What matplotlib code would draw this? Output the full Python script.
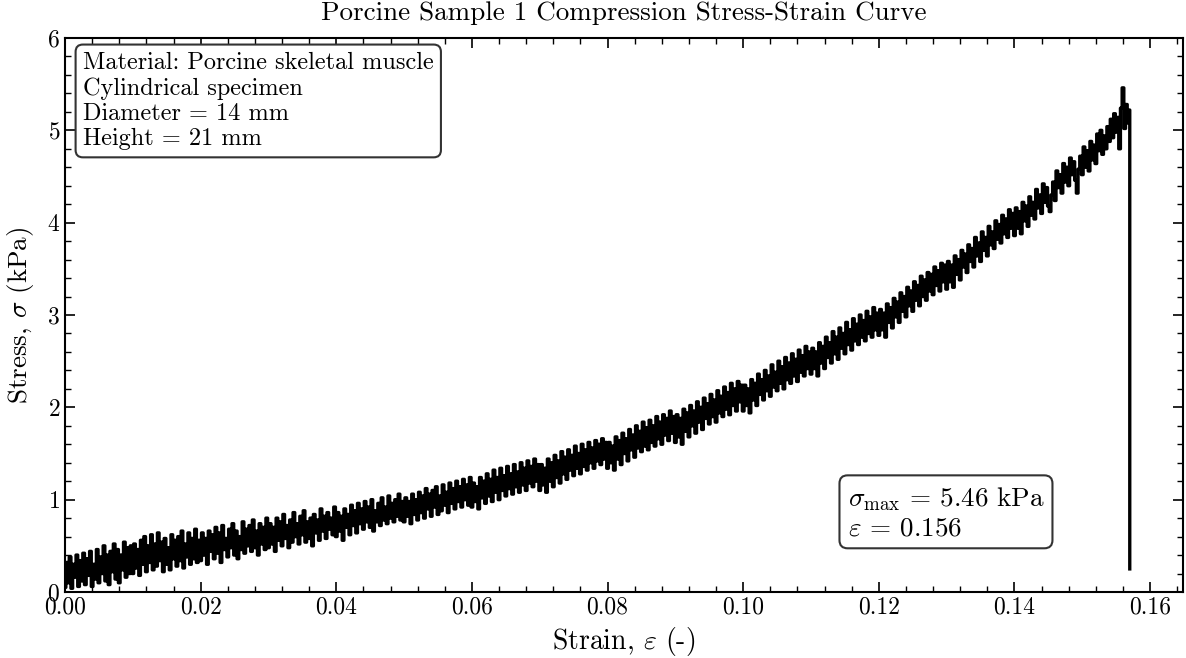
import numpy as np
import matplotlib
matplotlib.use("Agg")
import matplotlib.pyplot as plt
from matplotlib.ticker import MultipleLocator

# stress readings (kPa), one every 0.00025 strain, read block by block (0.01 strain each)
stress_blocks = [
    [0.05, 0.32, 0.10, 0.38, 0.04, 0.30, 0.16, 0.40, 0.06, 0.34, 0.12, 0.42, 0.08, 0.36, 0.18, 0.44, 0.06, 0.30, 0.14, 0.46,
     0.10, 0.38, 0.20, 0.50, 0.12, 0.40, 0.08, 0.44, 0.22, 0.52, 0.14, 0.46, 0.10, 0.40, 0.24, 0.54, 0.16, 0.48, 0.20, 0.50],
    [0.20, 0.52, 0.26, 0.46, 0.18, 0.56, 0.30, 0.60, 0.22, 0.50, 0.32, 0.62, 0.24, 0.52, 0.28, 0.64, 0.34, 0.54, 0.22, 0.58,
     0.30, 0.48, 0.24, 0.62, 0.36, 0.56, 0.28, 0.60, 0.34, 0.66, 0.26, 0.52, 0.38, 0.64, 0.30, 0.58, 0.36, 0.68, 0.32, 0.56],
    [0.34, 0.64, 0.40, 0.58, 0.30, 0.66, 0.44, 0.62, 0.36, 0.70, 0.42, 0.64, 0.32, 0.72, 0.46, 0.58, 0.38, 0.68, 0.48, 0.74,
     0.40, 0.66, 0.36, 0.60, 0.46, 0.76, 0.42, 0.68, 0.50, 0.72, 0.44, 0.78, 0.48, 0.66, 0.40, 0.74, 0.52, 0.70, 0.46, 0.80],
    [0.48, 0.74, 0.52, 0.70, 0.44, 0.80, 0.56, 0.76, 0.50, 0.84, 0.58, 0.72, 0.48, 0.78, 0.54, 0.86, 0.60, 0.74, 0.52, 0.82,
     0.62, 0.88, 0.54, 0.76, 0.58, 0.80, 0.50, 0.84, 0.64, 0.78, 0.56, 0.90, 0.66, 0.82, 0.58, 0.86, 0.68, 0.80, 0.62, 0.92],
    [0.60, 0.86, 0.66, 0.82, 0.56, 0.90, 0.70, 0.84, 0.62, 0.94, 0.72, 0.88, 0.64, 0.96, 0.74, 0.90, 0.68, 0.98, 0.76, 0.92,
     0.70, 1.00, 0.66, 0.88, 0.76, 0.96, 0.72, 1.02, 0.78, 0.92, 0.74, 1.04, 0.80, 0.96, 0.76, 1.00, 0.82, 1.06, 0.78, 0.98],
    [0.76, 1.02, 0.82, 0.98, 0.74, 1.06, 0.84, 1.00, 0.78, 1.08, 0.86, 1.04, 0.80, 1.12, 0.90, 1.06, 0.82, 1.10, 0.92, 1.14,
     0.84, 1.04, 0.88, 1.16, 0.94, 1.08, 0.86, 1.18, 0.96, 1.12, 0.90, 1.20, 0.98, 1.14, 0.92, 1.22, 1.00, 1.16, 0.94, 1.24],
    [0.92, 1.18, 0.98, 1.14, 0.90, 1.24, 1.02, 1.20, 0.96, 1.28, 1.04, 1.22, 0.98, 1.32, 1.08, 1.24, 1.00, 1.34, 1.10, 1.26,
     1.04, 1.36, 1.12, 1.28, 1.06, 1.38, 1.14, 1.30, 1.08, 1.40, 1.16, 1.34, 1.10, 1.42, 1.18, 1.36, 1.14, 1.44, 1.20, 1.38],
    [1.10, 1.38, 1.16, 1.34, 1.08, 1.44, 1.20, 1.40, 1.14, 1.48, 1.24, 1.42, 1.18, 1.52, 1.28, 1.46, 1.22, 1.54, 1.32, 1.48,
     1.26, 1.58, 1.34, 1.50, 1.28, 1.60, 1.36, 1.54, 1.32, 1.62, 1.40, 1.56, 1.34, 1.64, 1.42, 1.60, 1.38, 1.66, 1.44, 1.62],
    [1.34, 1.62, 1.40, 1.58, 1.32, 1.68, 1.44, 1.64, 1.38, 1.72, 1.50, 1.66, 1.42, 1.76, 1.54, 1.70, 1.46, 1.80, 1.56, 1.74,
     1.52, 1.84, 1.58, 1.78, 1.54, 1.86, 1.62, 1.80, 1.58, 1.90, 1.66, 1.84, 1.60, 1.92, 1.70, 1.88, 1.64, 1.96, 1.72, 1.90],
    [1.62, 1.92, 1.68, 1.88, 1.60, 1.98, 1.74, 1.94, 1.68, 2.02, 1.80, 1.96, 1.72, 2.06, 1.84, 2.00, 1.76, 2.10, 1.88, 2.04,
     1.82, 2.14, 1.90, 2.08, 1.84, 2.18, 1.94, 2.12, 1.90, 2.22, 1.98, 2.16, 1.92, 2.26, 2.02, 2.20, 1.96, 2.28, 2.06, 2.24],
    [1.96, 2.24, 2.02, 2.20, 1.94, 2.30, 2.08, 2.26, 2.02, 2.36, 2.14, 2.30, 2.08, 2.40, 2.18, 2.34, 2.12, 2.46, 2.22, 2.38,
     2.18, 2.50, 2.26, 2.44, 2.20, 2.54, 2.30, 2.48, 2.26, 2.58, 2.34, 2.52, 2.28, 2.62, 2.38, 2.56, 2.34, 2.66, 2.42, 2.60],
    [2.36, 2.64, 2.42, 2.60, 2.34, 2.70, 2.48, 2.66, 2.42, 2.76, 2.54, 2.70, 2.48, 2.82, 2.58, 2.76, 2.52, 2.86, 2.64, 2.80,
     2.58, 2.92, 2.68, 2.84, 2.62, 2.96, 2.72, 2.90, 2.68, 3.00, 2.76, 2.94, 2.72, 3.04, 2.80, 2.98, 2.76, 3.08, 2.84, 3.02],
    [2.78, 3.06, 2.84, 3.02, 2.76, 3.12, 2.92, 3.08, 2.86, 3.18, 2.98, 3.14, 2.92, 3.24, 3.04, 3.20, 2.98, 3.30, 3.10, 3.26,
     3.04, 3.36, 3.16, 3.32, 3.10, 3.42, 3.20, 3.38, 3.16, 3.46, 3.26, 3.44, 3.22, 3.52, 3.32, 3.48, 3.26, 3.56, 3.36, 3.54],
    [3.28, 3.58, 3.36, 3.54, 3.30, 3.64, 3.44, 3.60, 3.38, 3.70, 3.52, 3.66, 3.46, 3.76, 3.58, 3.72, 3.52, 3.84, 3.64, 3.78,
     3.58, 3.90, 3.70, 3.84, 3.64, 3.96, 3.76, 3.90, 3.72, 4.02, 3.82, 3.98, 3.78, 4.08, 3.88, 4.04, 3.84, 4.14, 3.94, 4.10],
    [3.86, 4.16, 3.94, 4.12, 3.88, 4.22, 4.02, 4.18, 3.96, 4.28, 4.08, 4.22, 4.04, 4.36, 4.16, 4.30, 4.10, 4.42, 4.22, 4.38,
     4.18, 4.12, 4.30, 4.44, 4.24, 4.56, 4.38, 4.52, 4.32, 4.64, 4.44, 4.60, 4.40, 4.70, 4.52, 4.66, 4.46, 4.32, 4.58, 4.72],
    [4.52, 4.82, 4.60, 4.78, 4.56, 4.88, 4.68, 4.84, 4.64, 4.96, 4.78, 5.00, 4.74, 4.94, 4.80, 5.04, 4.88, 5.12, 4.92, 5.18,
     4.98, 5.14, 4.80, 5.24, 5.46, 5.02, 5.28, 5.08, 5.22],
]
strain_step = 0.00025
# sample unloads at the end of the test
end_strain = 0.157
end_stress = 0.25

sigma_max = 5.46
eps_at_max = 0.156

info_lines = [
    "Material: Porcine skeletal muscle",
    "Cylindrical specimen",
    "Diameter = 14 mm",
    "Height = 21 mm",
]

stress = np.concatenate([np.array(b) for b in stress_blocks])
strain = np.arange(len(stress)) * strain_step
strain = np.append(strain, end_strain)
stress = np.append(stress, end_stress)

plt.rcParams.update({
    "font.family": "serif",
    "font.serif": ["cmr10"],
    "mathtext.fontset": "cm",
    "axes.formatter.use_mathtext": True,
    "axes.unicode_minus": False,
})

fig = plt.figure(figsize=(11.86, 6.58), dpi=100)
ax = fig.add_axes([65 / 1186, 1 - 592 / 658, 1118 / 1186, 554 / 658])

ax.plot(strain, stress, color="black", lw=2.4, drawstyle="steps-mid")

ax.set_xlim(0, end_strain * 1.05)
ax.set_ylim(0, 6)
ax.xaxis.set_major_locator(MultipleLocator(0.02))
ax.xaxis.set_minor_locator(MultipleLocator(0.004))
ax.yaxis.set_major_locator(MultipleLocator(1))
ax.yaxis.set_minor_locator(MultipleLocator(0.2))
ax.xaxis.set_major_formatter(plt.FormatStrFormatter("%.2f"))
ax.tick_params(which="both", direction="in", top=True, right=True, labelsize=17)
ax.tick_params(which="major", length=7, width=1.2)
ax.tick_params(which="minor", length=4, width=1.0)
for s in ax.spines.values():
    s.set_linewidth(1.5)

ax.set_xlabel(r"Strain, $\varepsilon$ (-)", fontsize=20, labelpad=4)
ax.set_ylabel(r"Stress, $\sigma$ (kPa)", fontsize=19.5, labelpad=8)
ax.set_title("Porcine Sample 1 Compression Stress-Strain Curve", fontsize=19.5, pad=13)

box = dict(boxstyle="round,pad=0.3", facecolor="white", edgecolor="#333333", lw=1.5)
ax.text(0.016, 0.975, "\n".join(info_lines), transform=ax.transAxes, fontsize=17.5,
        va="top", ha="left", bbox=box, linespacing=1.18)
ax.text(0.70, 0.193,
        rf"$\sigma_{{\max}}$ = {sigma_max:.2f} kPa" + "\n" + rf"$\varepsilon$ = {eps_at_max:.3f}",
        transform=ax.transAxes, fontsize=19.5, va="top", ha="left", bbox=box, linespacing=1.2)

fig.savefig("out.png", dpi=100)
